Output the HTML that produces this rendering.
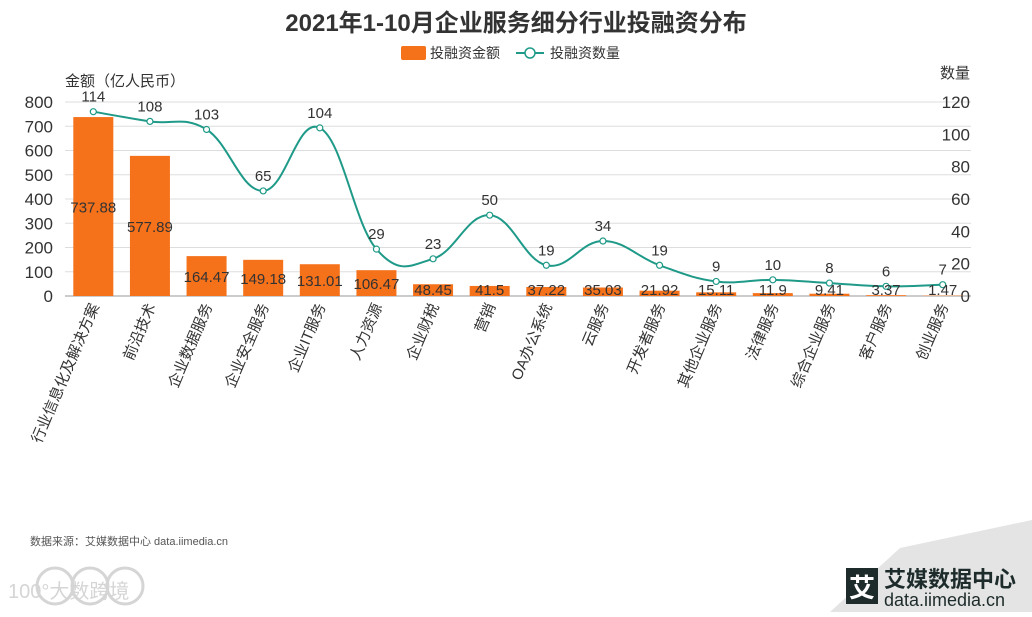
<!DOCTYPE html>
<html><head><meta charset="utf-8"><style>
body{margin:0;background:#fff;font-family:"Liberation Sans","Noto Sans CJK SC",sans-serif}
svg text{font-family:"Liberation Sans","Noto Sans CJK SC",sans-serif}
</style></head><body>
<svg width="1032" height="612" viewBox="0 0 1032 612" xmlns="http://www.w3.org/2000/svg">
<polygon points="830,612 900,548 1032,520 1032,612" fill="#e4e4e4"/>
<text x="516" y="31" text-anchor="middle" font-size="24" font-weight="bold" fill="#333">2021年1-10月企业服务细分行业投融资分布</text>
<g>
<rect x="401" y="46" width="25" height="14" rx="2" fill="#f5711a"/>
<text x="430" y="58" font-size="14" fill="#333">投融资金额</text>
<line x1="516" y1="53" x2="544" y2="53" stroke="#1f9a88" stroke-width="2"/>
<circle cx="530" cy="53" r="5" fill="#fff" stroke="#1f9a88" stroke-width="1.5"/>
<text x="550" y="58" font-size="14" fill="#333">投融资数量</text>
</g>
<text x="65" y="86" font-size="15" fill="#333">金额（亿人民币）</text>
<text x="970" y="78" font-size="15" fill="#333" text-anchor="end">数量</text>
<g id="grid"></g><g id="bars"></g><g id="line"></g><g id="labels"></g>
<text x="30" y="545" font-size="11" fill="#555">数据来源：艾媒数据中心 data.iimedia.cn</text>
<g opacity="0.35">
<circle cx="55" cy="586" r="18" fill="none" stroke="#888" stroke-width="3"/>
<circle cx="90" cy="586" r="18" fill="none" stroke="#888" stroke-width="3"/>
<circle cx="125" cy="586" r="18" fill="none" stroke="#888" stroke-width="3"/>
<text x="8" y="598" font-size="20" fill="#888">100°大数跨境</text>
</g>
<g>
<rect x="846" y="568" width="32" height="36" fill="#1d2b2a"/>
<text x="862" y="597" font-size="26" fill="#fff" text-anchor="middle" font-weight="bold">艾</text>
<text x="884" y="587" font-size="22" fill="#1d2b2a" font-weight="bold">艾媒数据中心</text>
<text x="884" y="606" font-size="18" fill="#1d2b2a">data.iimedia.cn</text>
</g>
</svg>
<script>
const categories=["行业信息化及解决方案","前沿技术","企业数据服务","企业安全服务","企业IT服务","人力资源","企业财税","营销","OA办公系统","云服务","开发者服务","其他企业服务","法律服务","综合企业服务","客户服务","创业服务"];
const amounts=[737.88,577.89,164.47,149.18,131.01,106.47,48.45,41.5,37.22,35.03,21.92,15.11,11.9,9.41,3.37,1.47];
const counts=[114,108,103,65,104,29,23,50,19,34,19,9,10,8,6,7];
const leftTicks=[0,100,200,300,400,500,600,700,800];
const rightTicks=[0,20,40,60,80,100,120];
const NS="http://www.w3.org/2000/svg";
const X0=65,X1=971,Y0=296,Y1=102;
const step=(X1-X0)/categories.length;
const xc=i=>X0+step*(i+0.5);
const yl=v=>Y0-(v/800)*(Y0-Y1);
const yr=v=>Y0-(v/120)*(Y0-Y1);
function mk(tag,attrs,parent){const e=document.createElementNS(NS,tag);for(const k in attrs)e.setAttribute(k,attrs[k]);parent.appendChild(e);return e;}
const grid=document.getElementById('grid'),bars=document.getElementById('bars'),line=document.getElementById('line'),labels=document.getElementById('labels');
leftTicks.forEach(t=>{
 const l=mk('line',{x1:X0,x2:X1,y1:yl(t),y2:yl(t),stroke:t===0?'#999':'#ddd','stroke-width':1},grid);
 
 
 const tx=mk('text',{x:53,y:yl(t)+6,'text-anchor':'end','font-size':17,fill:'#333'},grid);tx.textContent=t;
 
 
});
rightTicks.forEach(t=>{
 const tx=mk('text',{x:970,y:yr(t)+6,'text-anchor':'end','font-size':17,fill:'#333'},grid);tx.textContent=t;
 
 
});
amounts.forEach((v,i)=>{
 const r=mk('rect',{x:xc(i)-20,y:yl(v),width:40,height:Y0-yl(v),fill:'#f5711a'},bars);
 
 
 const ty=Math.min((yl(v)+Y0)/2+6,Y0-1);
 const t=mk('text',{x:xc(i),y:ty,'text-anchor':'middle','font-size':15,fill:'#333'},labels);t.textContent=v;
 
 
 const lx=xc(i)+6,ly=Y0+10;
 const c=mk('text',{x:lx,y:ly,'text-anchor':'end','font-size':15,fill:'#333',transform:`rotate(-67 ${lx} ${ly})`},labels);c.textContent=categories[i];
 
 
});
const pts=counts.map((v,i)=>[xc(i),yr(v)]);
let d=`M${pts[0][0]},${pts[0][1]}`;
for(let i=0;i<pts.length-1;i++){
 const p0=pts[Math.max(i-1,0)],p1=pts[i],p2=pts[i+1],p3=pts[Math.min(i+2,pts.length-1)];
 const k=0.2;
 d+=` C${p1[0]+(p2[0]-p0[0])*k},${p1[1]+(p2[1]-p0[1])*k} ${p2[0]-(p3[0]-p1[0])*k},${p2[1]-(p3[1]-p1[1])*k} ${p2[0]},${p2[1]}`;
}
const path=mk('path',{d:d,fill:'none',stroke:'#1f9a88','stroke-width':2},line);


counts.forEach((v,i)=>{
 const c=mk('circle',{cx:xc(i),cy:yr(v),r:3,fill:'#fff',stroke:'#1f9a88','stroke-width':1.2},line);
 
 
 const t=mk('text',{x:xc(i),y:yr(v)-10,'text-anchor':'middle','font-size':15,fill:'#333'},labels);t.textContent=v;
 
 
});
</script>
</body></html>
